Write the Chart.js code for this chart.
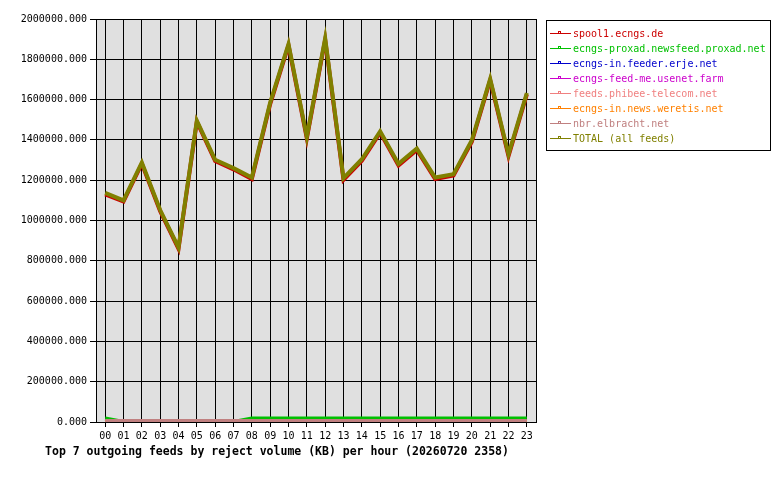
<!DOCTYPE html>
<html>
<head>
<meta charset="utf-8">
<script src="https://cdn.jsdelivr.net/npm/chart.js@4/dist/chart.umd.min.js"></script>
<style>
  html, body { margin: 0; padding: 0; background: #ffffff; }
  #wrap { width: 780px; height: 480px; position: relative; }
</style>
</head>
<body>
<div id="wrap"><canvas id="grafico-feeds"></canvas></div>
<script>
// Dados do gráfico
const horas = ['00','01','02','03','04','05','06','07','08','09','10','11',
               '12','13','14','15','16','17','18','19','20','21','22','23'];

const spool1 = [1130000, 1094000, 1282000, 1046000, 860000, 1490000, 1295000, 1254000,
                1206000, 1578000, 1869000, 1408000, 1897000, 1202000, 1297000, 1436000,
                1273000, 1350000, 1206000, 1223000, 1391000, 1696000, 1320000, 1626000];
const proxad = [17000, 0, 0, 0, 0, 0, 0, 0,
                17000, 17000, 17000, 17000, 17000, 17000, 17000, 17000,
                17000, 17000, 17000, 17000, 17000, 17000, 17000, 17000];
const erje = [0,0,0,0,0,0,0,0,0,0,0,0,0,0,0,0,0,0,0,0,0,0,0,0];
const usenetFarm = [0,0,0,0,0,0,0,0,0,0,0,0,0,0,0,0,0,0,0,0,0,0,0,0];
const phibee = [0,0,0,0,0,0,0,0,0,0,0,0,0,0,0,0,0,0,0,0,0,0,0,0];
const weretis = [0,0,0,0,0,0,0,0,0,0,0,0,0,0,0,0,0,0,0,0,0,0,0,0];
const elbracht = [5000,5000,5000,5000,5000,5000,5000,5000,5000,5000,5000,5000,
                  5000,5000,5000,5000,5000,5000,5000,5000,5000,5000,5000,5000];
const total = [1137000, 1100000, 1288000, 1052000, 866000, 1496000, 1301000, 1260000,
               1213000, 1585000, 1876000, 1415000, 1904000, 1210000, 1304000, 1443000,
               1281000, 1357000, 1213000, 1230000, 1398000, 1703000, 1328000, 1633000];

const nomesFeeds = ['spool1.ecngs.de', 'ecngs-proxad.newsfeed.proxad.net', 'ecngs-in.feeder.erje.net',
                    'ecngs-feed-me.usenet.farm', 'feeds.phibee-telecom.net', 'ecngs-in.news.weretis.net',
                    'nbr.elbracht.net', 'TOTAL (all feeds)'];
const coresFeeds = ['#cc0000', '#00c000', '#0000cc', '#cc00cc', '#f08080', '#ff8000', '#c08080', '#808000'];
const seriesFeeds = [spool1, proxad, erje, usenetFarm, phibee, weretis, elbracht, total];

const titulo = 'Top 7 outgoing feeds by reject volume (KB) per hour (20260720 2358)';
const fonteMono = '"DejaVu Sans Mono", "Liberation Mono", monospace';

// Fundo cinza e borda da área do gráfico
const fundoPlugin = {
    id: 'fundo',
    beforeDraw(chart) {
        const { ctx, chartArea: a } = chart;
        ctx.save();
        ctx.fillStyle = '#e0e0e0';
        ctx.fillRect(a.left, a.top, a.right - a.left, a.bottom - a.top);
        ctx.restore();
    },
    afterDraw(chart) {
        const { ctx, chartArea: a } = chart;
        ctx.save();
        ctx.strokeStyle = '#000000';
        ctx.lineWidth = 1;
        ctx.strokeRect(Math.round(a.left) + 0.5, Math.round(a.top) + 0.5,
                       Math.round(a.right - a.left), Math.round(a.bottom - a.top));
        ctx.restore();
    }
};

// Legenda com caixa à direita e título embaixo
const legendaPlugin = {
    id: 'legendaCaixa',
    afterDraw(chart) {
        const ctx = chart.ctx;
        ctx.save();
        ctx.strokeStyle = '#000000';
        ctx.lineWidth = 1;
        ctx.strokeRect(546.5, 20.5, 224, 130);
        ctx.font = '10px ' + fonteMono;
        ctx.textBaseline = 'middle';
        ctx.textAlign = 'left';
        chart.data.datasets.forEach((ds, i) => {
            const y = Math.round(33 + i * 15) + 0.5;
            ctx.strokeStyle = ds.borderColor;
            ctx.beginPath();
            ctx.moveTo(550, y);
            ctx.lineTo(571, y);
            ctx.stroke();
            ctx.strokeRect(558.5, y - 2, 2, 2);
            ctx.fillStyle = ds.borderColor;
            ctx.fillText(ds.label, 573, y + 1);
        });
        ctx.fillStyle = '#000000';
        ctx.font = 'bold 11.5px ' + fonteMono;
        ctx.textAlign = 'center';
        ctx.fillText(titulo, 277, 452);
        ctx.restore();
    }
};

function criarGraficoFeeds() {
    const ctx = document.getElementById('grafico-feeds').getContext('2d');

    new Chart(ctx, {
        type: 'line',
        data: {
            labels: horas,
            // order decrescente: o último feed (TOTAL) fica por cima
            datasets: seriesFeeds.map((serie, i) => ({
                label: nomesFeeds[i],
                data: serie,
                borderColor: coresFeeds[i],
                backgroundColor: coresFeeds[i],
                borderWidth: 4,
                pointRadius: 0,
                tension: 0,
                clip: 0,
                order: seriesFeeds.length - i
            }))
        },
        options: {
            responsive: true,
            maintainAspectRatio: false,
            animation: false,
            layout: { padding: { left: 0, top: 19, right: 244, bottom: 0 } },
            plugins: {
                legend: { display: false },
                title: { display: false },
                tooltip: { enabled: false }
            },
            scales: {
                x: {
                    offset: true,
                    grid: { offset: false, color: '#000000', lineWidth: 1, tickLength: 5, drawTicks: true },
                    border: { color: '#000000' },
                    ticks: {
                        color: '#000000',
                        font: { family: fonteMono, size: 10 },
                        padding: 3,
                        maxRotation: 0,
                        autoSkip: false
                    },
                    afterFit(scale) { scale.height = 58; }
                },
                y: {
                    min: 0,
                    max: 2000000,
                    grid: { color: '#000000', lineWidth: 1, tickLength: 6 },
                    border: { color: '#000000' },
                    ticks: {
                        stepSize: 200000,
                        color: '#000000',
                        font: { family: fonteMono, size: 10 },
                        padding: 3,
                        callback: function (value) {
                            return value.toFixed(3);
                        }
                    },
                    afterFit(scale) { scale.width = 96; }
                }
            }
        },
        plugins: [fundoPlugin, legendaPlugin]
    });
}

criarGraficoFeeds();
</script>
</body>
</html>
